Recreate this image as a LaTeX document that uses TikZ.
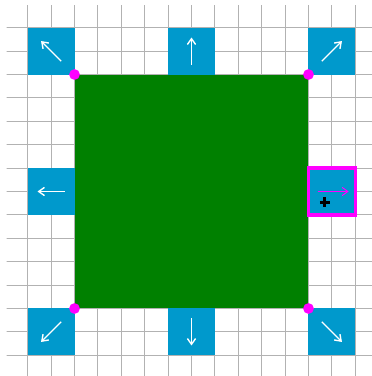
\documentclass[tikz,border=0pt]{standalone}
\usetikzlibrary{arrows.meta}
\definecolor{boxblue}{RGB}{0,153,204}
\definecolor{dkgreen}{RGB}{0,128,0}
\definecolor{pink}{RGB}{255,0,255}
\begin{document}
\begin{tikzpicture}[y=-1cm,
  gridline/.style={draw=gray!60, line width=1pt},
  bluebox/.style={fill=boxblue, minimum size=2cm, inner sep=0pt, outer sep=0pt},
  arr/.style={draw=white, line width=1.7pt, -{Straight Barb[length=7pt,width=10pt]}},
  dot/.style={fill=pink}]
\useasboundingbox (-0.184,-0.184) rectangle (15.714,15.885);
\begin{scope}
\clip (0.1,0.04) rectangle (15.714,15.885);
\foreach \i in {0,...,16} {
  \draw[gridline] (\i,0) -- (\i,16);
  \draw[gridline] (0,\i) -- (16,\i);
}
\end{scope}
\node[fill=dkgreen, minimum size=10cm, inner sep=0pt, outer sep=0pt] (sq) at (8,8) {};
\node[bluebox] (tl) at (2,2) {};
\node[bluebox] (tm) at (8,2) {};
\node[bluebox] (tr) at (14,2) {};
\node[bluebox] (ml) at (2,8) {};
\node[bluebox, draw=pink, line width=4pt] (mr) at (14,8) {};
\node[bluebox] (bl) at (2,14) {};
\node[bluebox] (bm) at (8,14) {};
\node[bluebox] (br) at (14,14) {};
\draw[arr] ([shift={(0.43,0.43)}]tl.center) -- ([shift={(-0.43,-0.43)}]tl.center);
\draw[arr] ([shift={(0,0.58)}]tm.center) -- ([shift={(0,-0.58)}]tm.center);
\draw[arr] ([shift={(-0.43,0.43)}]tr.center) -- ([shift={(0.43,-0.43)}]tr.center);
\draw[arr] ([shift={(0.58,0)}]ml.center) -- ([shift={(-0.58,0)}]ml.center);
\draw[arr, draw=pink, line width=1.2pt] ([shift={(-0.6,0)}]mr.center) -- ([shift={(0.72,0)}]mr.center);
\draw[arr] ([shift={(0.43,-0.43)}]bl.center) -- ([shift={(-0.43,0.43)}]bl.center);
\draw[arr] ([shift={(0,-0.58)}]bm.center) -- ([shift={(0,0.58)}]bm.center);
\draw[arr] ([shift={(-0.43,-0.43)}]br.center) -- ([shift={(0.43,0.43)}]br.center);
\draw[line width=3.8pt] (13.49,8.46) -- (13.91,8.46);
\draw[line width=3.8pt] (13.7,8.25) -- (13.7,8.67);
\fill[dot] (sq.north west) circle (0.23);
\fill[dot] (sq.north east) circle (0.23);
\fill[dot] (sq.south west) circle (0.23);
\fill[dot] (sq.south east) circle (0.23);
\end{tikzpicture}
\end{document}
